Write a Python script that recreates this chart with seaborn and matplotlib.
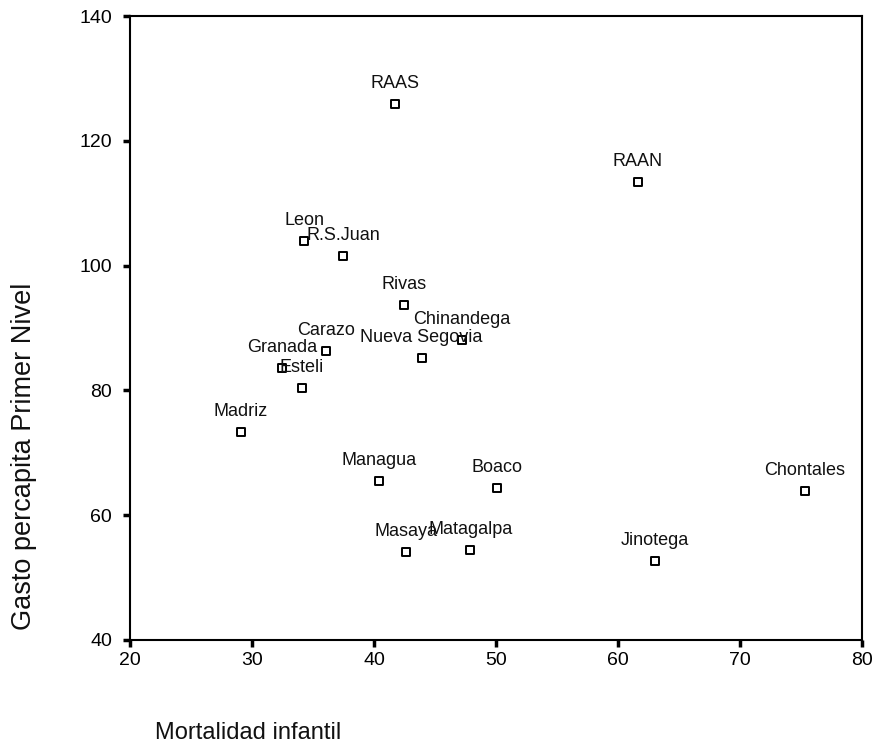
import matplotlib
matplotlib.use("Agg")
import matplotlib.pyplot as plt
import seaborn as sns
import pandas as pd

departamentos = ["RAAS", "RAAN", "Leon", "R.S.Juan", "Rivas", "Chinandega", "Carazo",
                 "Nueva Segovia", "Granada", "Esteli", "Madriz", "Managua", "Boaco",
                 "Chontales", "Masaya", "Matagalpa", "Jinotega"]
mortalidad = [41.7, 61.6, 34.3, 37.5, 42.5, 47.2, 36.1, 43.9, 32.5, 34.1, 29.1, 40.4,
              50.1, 75.3, 42.6, 47.9, 63.0]
gasto = [125.9, 113.4, 103.9, 101.5, 93.7, 88.1, 86.3, 85.2, 83.6, 80.4, 73.3, 65.5,
         64.4, 63.9, 54.1, 54.4, 52.7]
x_ticks = [20, 30, 40, 50, 60, 70, 80]
y_ticks = [40, 60, 80, 100, 120, 140]

df = pd.DataFrame({"dep": departamentos, "mort": mortalidad, "gasto": gasto})

sns.set_style("white")
plt.rcParams["font.family"] = ["Liberation Sans", "DejaVu Sans"]

fig = plt.figure(figsize=(8.74, 7.48), dpi=100)
ax = fig.add_axes([0.1487, 0.1444, 0.8376, 0.8342])

sns.scatterplot(data=df, x="mort", y="gasto", ax=ax, marker="s", s=38,
                facecolor="white", edgecolor="black", linewidth=1.4, zorder=3)

for _, r in df.iterrows():
    ax.annotate(r["dep"], (r["mort"], r["gasto"]), xytext=(0, 8.5),
                textcoords="offset points", ha="center", va="bottom",
                fontsize=13, color="#111111", zorder=4)

ax.set_xlim(20, 80)
ax.set_ylim(40, 140)
ax.set_xticks(x_ticks)
ax.set_yticks(y_ticks)
ax.tick_params(axis="both", direction="out", length=5, width=2.5, labelsize=14,
               colors="black", bottom=True, left=True)
ax.tick_params(axis="y", pad=8)
ax.tick_params(axis="x", pad=4)
for sp in ax.spines.values():
    sp.set_visible(True)
    sp.set_color("black")
    sp.set_linewidth(1.5)

ax.set_xlabel("")
ax.set_ylabel("")
fig.text(24 / 874, 1 - 456 / 748, "Gasto percapita Primer Nivel", fontsize=19.5,
         rotation=90, ha="center", va="center", color="#111111")
fig.text(155 / 874, 1 - 733 / 748, "Mortalidad infantil", fontsize=17,
         ha="left", va="center", color="#111111")

fig.savefig("out.png", dpi=100)
